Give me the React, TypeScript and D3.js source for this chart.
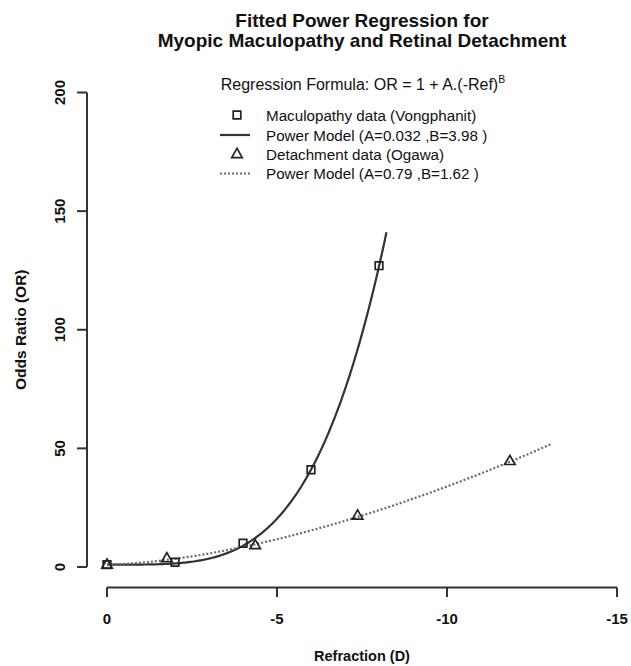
import { useEffect, useRef } from 'react';
import * as d3 from 'd3';

// Data points
const macRefraction = [0, -2, -4, -6, -8];
const macOddsRatio = [1, 2, 10, 41, 127];

const detRefraction = [0, -1.76, -4.36, -7.37, -11.85];
const detOddsRatio = [1, 3.7, 9.2, 21.7, 44.7];

// Power model parameters (from the legend) and the extent of each drawn curve
const modelA = [0.032, 0.79];
const modelB = [3.98, 1.62];
const modelEnd = [-8.22, -13.08];

const xTicks = [0, -5, -10, -15];
const yTicks = [0, 50, 100, 150, 200];

const legendLabels = [
  'Maculopathy data (Vongphanit)',
  'Power Model (A=0.032 ,B=3.98 )',
  'Detachment data (Ogawa)',
  'Power Model (A=0.79 ,B=1.62 )',
];

const WIDTH = 631;
const HEIGHT = 666;
const FONT = '"Liberation Sans", Arial, Helvetica, sans-serif';

function Chart() {
  const svgRef = useRef<SVGSVGElement>(null);

  useEffect(() => {
    if (!svgRef.current) return;
    const svg = d3.select(svgRef.current);
    svg.selectAll('*').remove();

    const x = d3.scaleLinear().domain([0, -15]).range([107, 617]);
    const y = d3.scaleLinear().domain([0, 200]).range([567, 92.5]);

    svg.append('rect')
      .attr('width', WIDTH)
      .attr('height', HEIGHT)
      .attr('fill', '#fff');

    // Title
    const title = svg.append('text')
      .attr('text-anchor', 'middle')
      .attr('font-family', FONT)
      .attr('font-weight', 'bold')
      .attr('font-size', '19px')
      .attr('fill', '#111');
    title.append('tspan').attr('x', 362).attr('y', 27).text('Fitted Power Regression for');
    title.append('tspan').attr('x', 362).attr('y', 46.5).text('Myopic Maculopathy and Retinal Detachment');

    // X axis
    const xAxis = svg.append('g').attr('stroke', '#333').attr('stroke-width', 2).attr('fill', 'none');
    xAxis.append('line')
      .attr('x1', x(0)).attr('x2', x(-15))
      .attr('y1', 587.5).attr('y2', 587.5);
    xTicks.forEach(t => {
      xAxis.append('line')
        .attr('x1', x(t)).attr('x2', x(t))
        .attr('y1', 587.5).attr('y2', 597);
    });
    svg.append('g')
      .selectAll('text')
      .data(xTicks)
      .join('text')
      .attr('x', d => x(d))
      .attr('y', 624)
      .attr('text-anchor', 'middle')
      .attr('font-family', FONT)
      .attr('font-weight', 'bold')
      .attr('font-size', '15px')
      .attr('fill', '#111')
      .text(d => (d === 0 ? '0' : `-${Math.abs(d)}`));

    svg.append('text')
      .attr('x', 362)
      .attr('y', 661)
      .attr('text-anchor', 'middle')
      .attr('font-family', FONT)
      .attr('font-weight', 'bold')
      .attr('font-size', '14.5px')
      .attr('fill', '#111')
      .text('Refraction (D)');

    // Y axis
    const yAxis = svg.append('g').attr('stroke', '#333').attr('stroke-width', 2).attr('fill', 'none');
    yAxis.append('line')
      .attr('x1', 87).attr('x2', 87)
      .attr('y1', y(0)).attr('y2', y(200));
    yTicks.forEach(t => {
      yAxis.append('line')
        .attr('x1', 77).attr('x2', 87)
        .attr('y1', y(t)).attr('y2', y(t));
    });
    svg.append('g')
      .selectAll('text')
      .data(yTicks)
      .join('text')
      .attr('transform', d => `translate(65,${y(d)}) rotate(-90)`)
      .attr('text-anchor', 'middle')
      .attr('font-family', FONT)
      .attr('font-weight', 'bold')
      .attr('font-size', '15px')
      .attr('fill', '#111')
      .text(d => d);

    svg.append('text')
      .attr('transform', `translate(26,${(y(0) + y(200)) / 2}) rotate(-90)`)
      .attr('text-anchor', 'middle')
      .attr('font-family', FONT)
      .attr('font-weight', 'bold')
      .attr('font-size', '15.5px')
      .attr('fill', '#111')
      .text('Odds Ratio (OR)');

    // Fitted power model curves: OR = 1 + A * (-Ref)^B
    const line = d3.line<[number, number]>()
      .x(d => x(d[0]))
      .y(d => y(d[1]));

    modelA.forEach((a, i) => {
      const refs = d3.range(0, modelEnd[i], -0.05).concat([modelEnd[i]]);
      const pts: [number, number][] = refs.map(r => [r, 1 + a * Math.pow(-r, modelB[i])]);
      svg.append('path')
        .datum(pts)
        .attr('d', line)
        .attr('fill', 'none')
        .attr('stroke', i === 0 ? '#333' : '#6a6a6a')
        .attr('stroke-width', 2.2)
        .attr('stroke-dasharray', i === 0 ? null : '2,2');
    });

    // Data markers
    const square = d3.symbol().type(d3.symbolSquare).size(58);
    const triangle = d3.symbol().type(d3.symbolTriangle).size(48);

    svg.append('g')
      .selectAll('path')
      .data(macRefraction.map((r, i) => [r, macOddsRatio[i]]))
      .join('path')
      .attr('transform', d => `translate(${x(d[0])},${y(d[1])})`)
      .attr('d', square)
      .attr('fill', 'none')
      .attr('stroke', '#222')
      .attr('stroke-width', 1.7);

    svg.append('g')
      .selectAll('path')
      .data(detRefraction.map((r, i) => [r, detOddsRatio[i]]))
      .join('path')
      .attr('transform', d => `translate(${x(d[0])},${y(d[1]) + 0.5})`)
      .attr('d', triangle)
      .attr('fill', 'none')
      .attr('stroke', '#222')
      .attr('stroke-width', 1.7);

    // Legend
    const formula = svg.append('text')
      .attr('x', 363)
      .attr('y', 90)
      .attr('text-anchor', 'middle')
      .attr('font-family', FONT)
      .attr('font-size', '16px')
      .attr('fill', '#111');
    formula.append('tspan').text('Regression Formula: OR = 1 + A.(-Ref)');
    formula.append('tspan').attr('font-size', '10.5px').attr('dy', -7).text('B');

    const legend = svg.append('g').attr('transform', 'translate(237,0)');
    const rowY = [115, 135, 154.5, 173.5];
    legendLabels.forEach((label, i) => {
      if (i === 0) {
        legend.append('path')
          .attr('transform', `translate(0,${rowY[i]})`)
          .attr('d', square)
          .attr('fill', 'none')
          .attr('stroke', '#222')
          .attr('stroke-width', 1.7);
      } else if (i === 2) {
        legend.append('path')
          .attr('transform', `translate(0,${rowY[i]})`)
          .attr('d', triangle)
          .attr('fill', 'none')
          .attr('stroke', '#222')
          .attr('stroke-width', 1.7);
      } else {
        legend.append('line')
          .attr('x1', -17).attr('x2', 13)
          .attr('y1', rowY[i]).attr('y2', rowY[i])
          .attr('stroke', i === 1 ? '#333' : '#6a6a6a')
          .attr('stroke-width', 2.2)
          .attr('stroke-dasharray', i === 1 ? null : '2,2');
      }
      legend.append('text')
        .attr('x', 29)
        .attr('y', rowY[i] + 5.5)
        .attr('font-family', FONT)
        .attr('font-size', '15.2px')
        .attr('fill', '#111')
        .text(label);
    });
  }, []);

  return <svg ref={svgRef} width={WIDTH} height={HEIGHT} style={{ position: 'absolute', left: 0, top: 0 }} />;
}

export default function App() {
  return <Chart />;
}
